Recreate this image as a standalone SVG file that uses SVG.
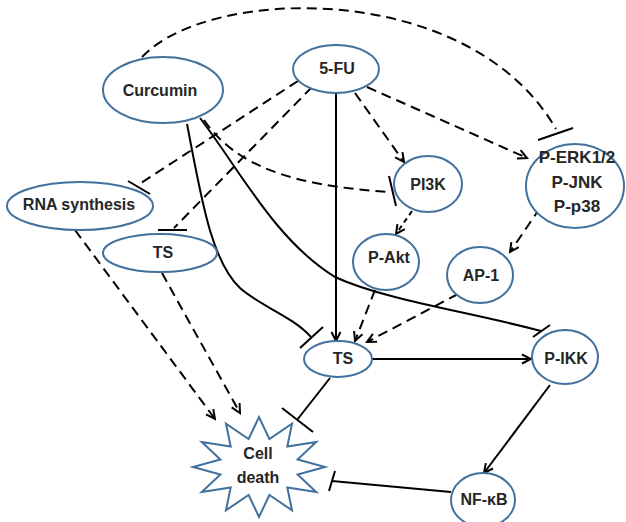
<svg xmlns="http://www.w3.org/2000/svg" width="626" height="522" viewBox="0 0 626 522">
<style>
.node{fill:#fff;stroke:#41719c;stroke-width:2}
.lbl{font-family:"Liberation Sans",Arial,sans-serif;font-weight:bold;font-size:16px;fill:#262626;text-anchor:middle}
.c{fill:none;stroke:#000;stroke-width:2}
.d{stroke-dasharray:10 6}
.ds{stroke-dasharray:5 4}
.a{marker-end:url(#arr)}
</style>
<defs>
<marker id="arr" viewBox="0 0 12 12" refX="10" refY="6" markerWidth="12" markerHeight="12" markerUnits="userSpaceOnUse" orient="auto">
<path d="M1,1.5 L10,6 L1,10.5" fill="none" stroke="#000" stroke-width="2" stroke-dasharray="none"/>
</marker>
</defs>
<rect width="626" height="522" fill="#fff"/>
<g id="connectors">
<path class="c d" d="M142,57 C210,-15 470,-20 556,129"/>
<line class="c" x1="538" y1="140" x2="573" y2="128"/>
<line class="c d" x1="298" y1="81" x2="138" y2="185"/>
<line class="c" x1="128" y1="181" x2="150" y2="194"/>
<line class="c d" x1="312" y1="87" x2="174" y2="228"/>
<line class="c" x1="158" y1="230" x2="187" y2="230"/>
<path class="c d" d="M204,120 C235,165 290,186 391,192"/>
<line class="c" x1="389" y1="176" x2="396" y2="206"/>
<line class="c a" x1="336" y1="93" x2="336" y2="341"/>
<line class="c d a" x1="355" y1="93" x2="404" y2="162"/>
<line class="c d a" x1="367" y1="87" x2="527" y2="158"/>
<line class="c ds a" x1="412" y1="211" x2="396" y2="234"/>
<line class="c d a" x1="540" y1="208" x2="510" y2="252"/>
<line class="c d a" x1="375" y1="290" x2="355" y2="341"/>
<line class="c d a" x1="458" y1="294" x2="367" y2="342"/>
<path class="c" d="M187,124 C200,190 210,260 240,288 C260,306 292,316 311,337"/>
<line class="c" x1="300" y1="348" x2="323" y2="327"/>
<path class="c" d="M200,118 C240,170 275,240 335,277 C385,300 470,312 541,331"/>
<line class="c" x1="533" y1="337" x2="550" y2="325"/>
<line class="c a" x1="372" y1="359" x2="531" y2="359"/>
<line class="c a" x1="550" y1="385" x2="484" y2="473"/>
<line class="c" x1="451" y1="492" x2="332" y2="481"/>
<line class="c" x1="329" y1="491" x2="335" y2="471"/>
<line class="c" x1="330" y1="378" x2="297" y2="420"/>
<line class="c" x1="282" y1="408" x2="313" y2="432"/>
<line class="c d a" x1="75" y1="230" x2="215" y2="419"/>
<line class="c d a" x1="162" y1="273" x2="240" y2="413"/>
</g>
<g id="curcumin"><ellipse class="node" cx="163" cy="90" rx="60" ry="33"/><text class="lbl" x="160" y="96">Curcumin</text></g>
<g id="fu"><ellipse class="node" cx="336" cy="69" rx="43" ry="24"/><text class="lbl" x="337" y="74">5-FU</text></g>
<g id="perk"><ellipse class="node" cx="575" cy="186" rx="49" ry="42"/><text class="lbl" x="577" y="163" style="font-size:17px">P-ERK1/2</text><text class="lbl" x="577" y="188" style="font-size:17px">P-JNK</text><text class="lbl" x="577" y="212" style="font-size:17px">P-p38</text></g>
<g id="pi3k"><ellipse class="node" cx="428" cy="184" rx="34" ry="28"/><text class="lbl" x="428" y="190">PI3K</text></g>
<g id="pakt"><ellipse class="node" cx="386" cy="262" rx="33" ry="28"/><text class="lbl" x="389" y="263">P-Akt</text></g>
<g id="ap1"><ellipse class="node" cx="480" cy="275" rx="33" ry="28"/><text class="lbl" x="481" y="281">AP-1</text></g>
<g id="rna"><ellipse class="node" cx="80" cy="206" rx="73" ry="24"/><text class="lbl" x="79" y="210">RNA synthesis</text></g>
<g id="ts_upper"><ellipse class="node" cx="160" cy="253" rx="57" ry="19"/><text class="lbl" x="163" y="258">TS</text></g>
<g id="ts_main"><ellipse class="node" cx="338" cy="359" rx="34" ry="18"/><text class="lbl" x="343" y="364">TS</text></g>
<g id="pikk"><ellipse class="node" cx="565" cy="357" rx="33" ry="27"/><text class="lbl" x="566" y="364">P-IKK</text></g>
<g id="nfkb"><ellipse class="node" cx="483" cy="500" rx="32" ry="27"/><text class="lbl" x="484" y="505">NF-κB</text></g>
<g id="celldeath"><polygon class="node" points="325,467 297.6,474.5 316.2,492 287.3,487.5 292,510.3 269.4,495 259,517 248.6,495 226,510.3 230.7,487.5 201.8,492 220.4,474.5 193,467 220.4,459.5 201.8,442 230.7,446.5 226,423.7 248.6,439 259,417 269.4,439 292,423.7 287.3,446.5 316.2,442 297.6,459.5"/><text class="lbl" x="258" y="459">Cell</text><text class="lbl" x="258" y="483">death</text></g>
</svg>
